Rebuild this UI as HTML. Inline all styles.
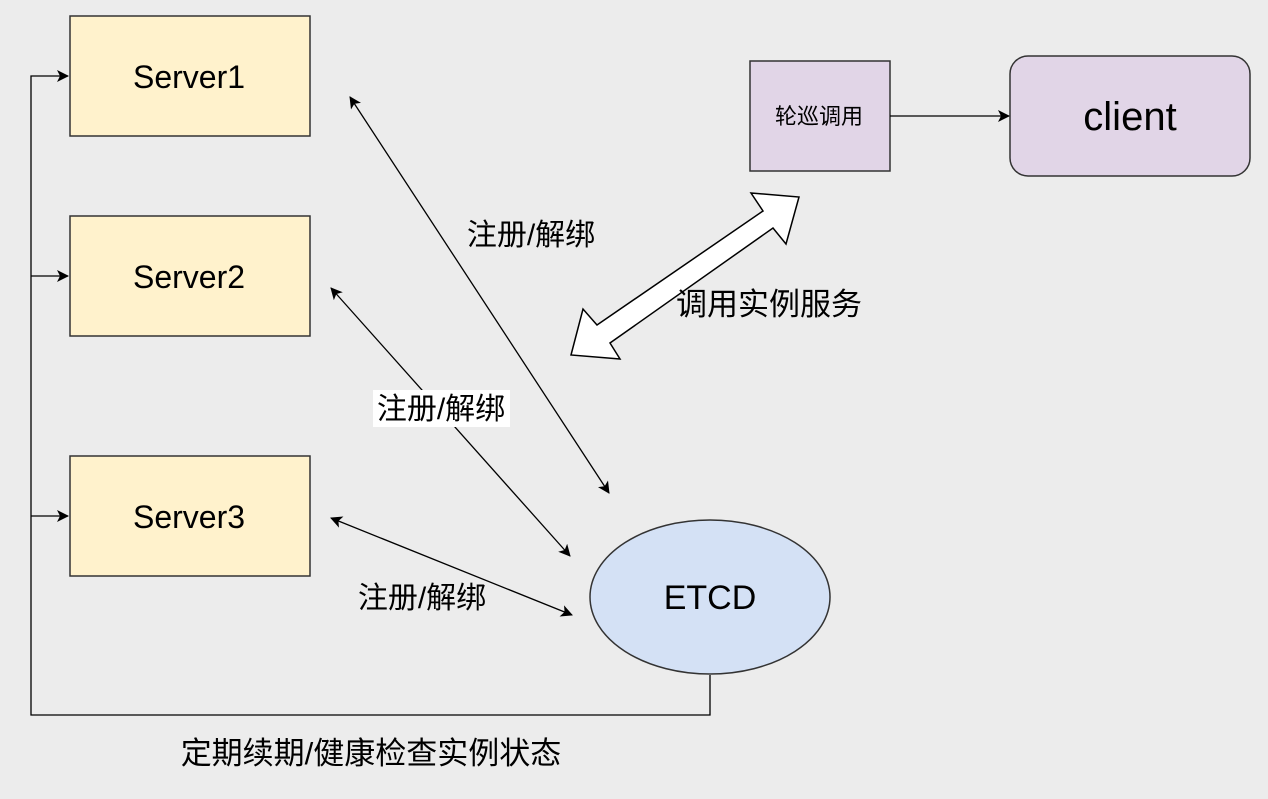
<!DOCTYPE html>
<html><head><meta charset="utf-8"><style>
body{margin:0;background:#ececec;}
svg text{font-family:"Liberation Sans","Noto Sans CJK SC",sans-serif;fill:#000;}
</style></head><body>
<svg width="1268" height="794" viewBox="0 0 1268 794" xmlns="http://www.w3.org/2000/svg">
<defs>
<marker id="a" markerWidth="12" markerHeight="12" refX="11" refY="6" orient="auto-start-reverse" markerUnits="userSpaceOnUse">
<path d="M0,0 L12,6 L0,12 L3,6 Z" fill="#000"/></marker>
</defs>
<rect width="1268" height="794" fill="#ececec"/>
<rect x="70" y="16" width="240" height="120" fill="#fff2cc" stroke="#333" stroke-width="1.5"/>
<rect x="70" y="216" width="240" height="120" fill="#fff2cc" stroke="#333" stroke-width="1.5"/>
<rect x="70" y="456" width="240" height="120" fill="#fff2cc" stroke="#333" stroke-width="1.5"/>
<text x="189" y="88" font-size="32" text-anchor="middle">Server1</text>
<text x="189" y="288" font-size="32" text-anchor="middle">Server2</text>
<text x="189" y="528" font-size="32" text-anchor="middle">Server3</text>
<rect x="750" y="61" width="140" height="110" fill="#e1d5e7" stroke="#333" stroke-width="1.5"/>
<text x="819" y="124" font-size="22" text-anchor="middle">轮巡调用</text>
<rect x="1010" y="56" width="240" height="120" rx="18" fill="#e1d5e7" stroke="#333" stroke-width="1.5"/>
<text x="1130" y="130" font-size="40" text-anchor="middle">client</text>
<line x1="890" y1="116" x2="1009" y2="116" stroke="#000" stroke-width="1.3" marker-end="url(#a)"/>
<ellipse cx="710" cy="597" rx="120" ry="77" fill="#d4e1f5" stroke="#333" stroke-width="1.5"/>
<text x="710" y="609" font-size="34" text-anchor="middle">ETCD</text>
<polyline points="710,675 710,715 31,715 31,76 68,76" fill="none" stroke="#000" stroke-width="1.3" marker-end="url(#a)"/>
<line x1="31" y1="276" x2="68" y2="276" stroke="#000" stroke-width="1.3" marker-end="url(#a)"/>
<line x1="31" y1="516" x2="68" y2="516" stroke="#000" stroke-width="1.3" marker-end="url(#a)"/>
<line x1="350" y1="97" x2="609" y2="493" stroke="#000" stroke-width="1.3" marker-start="url(#a)" marker-end="url(#a)"/>
<line x1="331" y1="288" x2="570" y2="556" stroke="#000" stroke-width="1.3" marker-start="url(#a)" marker-end="url(#a)"/>
<line x1="331" y1="518" x2="572" y2="615" stroke="#000" stroke-width="1.3" marker-start="url(#a)" marker-end="url(#a)"/>
<polygon points="751,193 799,197 786,244 773,228 610,343 620,359 571,355 583,309 597,325 763,211" fill="#fff" stroke="#000" stroke-width="1.5" stroke-linejoin="miter"/>
<text x="531" y="245" font-size="30" text-anchor="middle">注册/解绑</text>
<rect x="373" y="390" width="137" height="37" fill="#fff"/>
<text x="441" y="419" font-size="30" text-anchor="middle">注册/解绑</text>
<text x="422" y="608" font-size="30" text-anchor="middle">注册/解绑</text>
<text x="769" y="315" font-size="31" text-anchor="middle">调用实例服务</text>
<text x="371" y="764" font-size="31" text-anchor="middle">定期续期/健康检查实例状态</text>
</svg>
</body></html>
